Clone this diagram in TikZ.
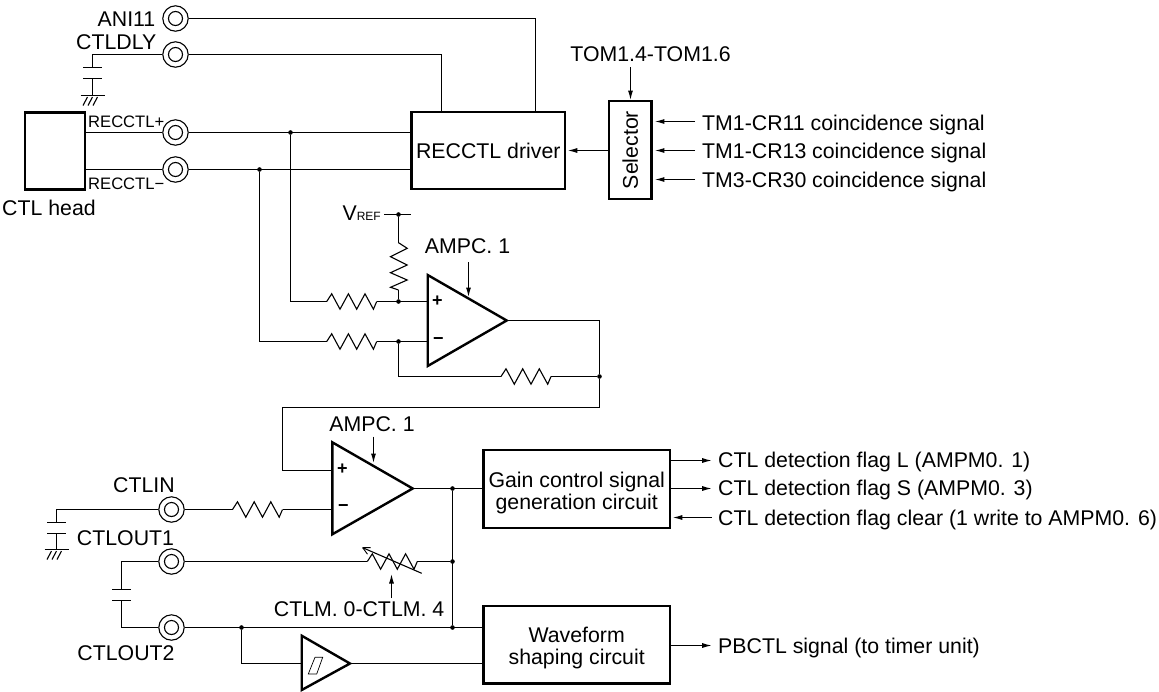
\documentclass[tikz,border=0pt]{standalone}
\usepackage{fontspec}
\setmainfont{Liberation Sans}
\usetikzlibrary{arrows.meta,calc}
\tikzset{
  wire/.style={line width=1.1pt,line join=miter},
  arr/.style={wire,-{Latex[length=9.5pt,width=5pt]}},
  thickbox/.style={draw,line width=2.4pt,inner sep=0pt,align=center,font=\mainfs},
  thickline/.style={line width=2.4pt,line join=miter},
  terminal/.style={draw,circle,line width=1.1pt,minimum size=25.4pt,inner sep=0pt,
    path picture={\draw[line width=1.1pt] (path picture bounding box.center) circle (7pt);}},
  jn/.style={circle,fill=black,inner sep=0pt,minimum size=4.6pt},
  lab/.style={inner sep=0pt,font=\mainfs,anchor=base},
  lableft/.style={lab,anchor=base west},
  labright/.style={lab,anchor=base east},
  smalllab/.style={inner sep=0pt,font=\recfs,anchor=base west},
  sign/.style={inner sep=0pt,font=\signfs},
  res/.pic={
    \coordinate (-a) at (-25,0);
    \coordinate (-b) at (25,0);
    \draw[wire] (-25,0) -- (-20,-7.7) -- (-11.7,7.7) -- (-3.3,-7.7) -- (5,7.7) -- (13.3,-7.7) -- (21.7,7.7) -- (25,0);
  },
  resv/.pic={
    \coordinate (-a) at (0,-23.6);
    \coordinate (-b) at (0,23.7);
    \draw[wire] (0,-23.6) -- (8.7,-18) -- (-8,-9.6) -- (8.7,-1.3) -- (-8,6.4) -- (8.7,13.7) -- (-8,21) -- (0,23.7);
  },
  capv/.pic={
    \coordinate (-a) at (0,-5.5);
    \coordinate (-b) at (0,5.5);
    \draw[wire] (-9.5,-5.5) -- (9.5,-5.5);
    \draw[wire] (-9.5,5.5) -- (9.5,5.5);
  },
  gnd/.pic={
    \coordinate (-a) at (0,0);
    \draw[wire] (-12,0) -- (12,0);
    \draw[wire] (-5,1.5) -- (-9.5,10);
    \draw[wire] (0,1.5) -- (-4.5,10);
    \draw[wire] (5,1.5) -- (0.5,10);
  }
}
\newcommand{\mainfs}{\fontsize{21.3}{22}\selectfont}
\newcommand{\recfs}{\fontsize{16.6}{18}\selectfont}
\newcommand{\signfs}{\fontsize{18}{18}\selectfont\bfseries}
\newcommand{\reffs}{\fontsize{12}{12}\selectfont}
\begin{document}
\begin{tikzpicture}[x=1pt,y=-1pt]
\useasboundingbox (0,0) rectangle (1159,691);

% terminals
\node[terminal] (ani) at (175.5,18.5) {};
\node[terminal] (dly) at (175.5,54.5) {};
\node[terminal] (rp) at (175.5,132.5) {};
\node[terminal] (rm) at (175.5,169.5) {};
\node[terminal] (ctlin) at (171.5,509.5) {};
\node[terminal] (out1) at (171.5,561.5) {};
\node[terminal] (out2) at (171.5,627.5) {};

% terminal labels
\node[labright] (lani) at (155.5,26) {ANI11};
\node[labright] (ldly) at (156.5,49.3) {CTLDLY};
\node[smalllab] (lrp) at (88,127.7) {RECCTL+};
\node[smalllab] (lrm) at (88,189) {RECCTL−};
\node[lab] (lhead) at (49,215) {CTL head};
\node[lab] (lin) at (144,492.7) {CTLIN};
\node[lab] (lo1) at (125.5,545) {CTLOUT1};
\node[lab] (lo2) at (126,660) {CTLOUT2};

% boxes
\node[thickbox,minimum width=60pt,minimum height=77pt] (head) at (55,150.8) {};
\node[thickbox,minimum width=153.5pt,minimum height=77.3pt,text height=15.8pt,text depth=0pt] (drv) at (488.3,150.4) {RECCTL driver};
\node[thickbox,minimum width=42.7pt,minimum height=98pt] (sel) at (630.3,150) {};
\node[inner sep=0pt,font=\mainfs,rotate=90] (seltxt) at (630.3,150) {Selector};
\node[thickbox,minimum width=186.7pt,minimum height=77.7pt,text height=40.2pt,text depth=0pt] (gain) at (576.7,488.9) {Gain control signal\\generation circuit};
\node[thickbox,minimum width=186.7pt,minimum height=77.6pt,text height=39.5pt,text depth=0pt] (wave) at (576.7,644.5) {Waveform\\shaping circuit};

% text
\node[lab] (ltom) at (650.5,61.7) {TOM1.4-TOM1.6};
\node[lableft] (s1) at (702,130) {TM1-CR11 coincidence signal};
\node[lableft] (s2) at (702,158) {TM1-CR13 coincidence signal};
\node[lableft] (s3) at (702,187) {TM3-CR30 coincidence signal};
\node[lableft] (f1) at (718,467.7) {CTL detection flag L (AMPM0. 1)};
\node[lableft] (f2) at (718,495.7) {CTL detection flag S (AMPM0. 3)};
\node[lableft] (f3) at (718,525) {CTL detection flag clear (1 write to AMPM0. 6)};
\node[lableft] (pb) at (718,653.3) {PBCTL signal (to timer unit)};
\node[lab] (la1) at (467.5,253.3) {AMPC. 1};
\node[lab] (la2) at (372,431) {AMPC. 1};
\node[labright] (lm) at (444.5,616.7) {CTLM. 0-CTLM. 4};
\node[labright] (lv) at (381,220) {V{\reffs REF}};

% junctions
\node[jn] (jrp) at (290.5,132.5) {};
\node[jn] (jrm) at (259.5,169.5) {};
\node[jn] (jv) at (398.5,214.5) {};
\node[jn] (ja1p) at (398.5,301.5) {};
\node[jn] (ja1m) at (398.5,341.5) {};
\node[jn] (jfb) at (599.5,376.5) {};
\node[jn] (ja2o) at (452.5,488.5) {};
\node[jn] (jvr) at (452.5,561.5) {};
\node[jn] (jo2r) at (452.5,627.5) {};
\node[jn] (jo2) at (241.5,627.5) {};

% amplifier 1
\coordinate (a1t) at (427.7,275);
\coordinate (a1b) at (427.7,366);
\coordinate (a1o) at (506.7,320.5);
\coordinate (a1p) at (427.7,301.5);
\coordinate (a1m) at (427.7,341.5);
\coordinate (a1c) at (468.5,296);
\draw[thickline] (a1t) -- (a1b) -- (a1o) -- cycle;
\node[sign] (a1ps) at (437.5,301) {+};
\node[sign] (a1ms) at (438.5,341) {−};

% amplifier 2
\coordinate (a2t) at (332.3,442.3);
\coordinate (a2b) at (332.3,534.3);
\coordinate (a2o) at (412.7,488.5);
\coordinate (a2p) at (332.3,470.5);
\coordinate (a2m) at (332.3,509.5);
\coordinate (a2c) at (373.5,462);
\draw[thickline] (a2t) -- (a2b) -- (a2o) -- cycle;
\node[sign] (a2ps) at (342.3,469) {+};
\node[sign] (a2ms) at (343.3,508.5) {−};

% schmitt
\coordinate (st) at (301.7,635.7);
\coordinate (sb) at (301.7,690);
\coordinate (so) at (350,663.5);
\coordinate (si) at (301.7,663.5);
\draw[thickline] (st) -- (sb) -- (so) -- cycle;
\draw[line width=.7pt] (315,657.3) -- (322.7,657.3) -- (316.7,674) -- (308.3,674) -- cycle;

% resistors
\pic (r1) at (351.7,301.5) {res};
\pic (r2) at (351.7,341.5) {res};
\pic (r3) at (526,376.5) {res};
\pic (r4) at (257.5,509.5) {res};
\pic (r5) at (398.5,266.3) {resv};
\pic (r6) at (392.3,561.5) {res};
\draw[wire] (421.7,573.3) -- (362.7,547.7);
\draw[line width=.9pt] (362.7,547.7) -- (370.5,547.6);
\draw[line width=.9pt] (362.7,547.7) -- (367.5,554.2);

% capacitors and grounds
\pic (c1) at (92.5,73) {capv};
\pic (g1) at (92.5,95.5) {gnd};
\pic (c2) at (56.5,528) {capv};
\pic (g2) at (56.5,549.5) {gnd};
\pic (c3) at (121.5,595) {capv};

% top wires
\draw[wire] (ani.east) -| (drv.north -| 535.5,0);
\draw[wire] (dly.east) -| (drv.north -| 441.5,0);
\draw[wire] (dly.west) -| (c1-a);
\draw[wire] (c1-b) -- (g1-a);
\draw[wire] (rp.west) -- (rp.west -| head.east);
\draw[wire] (rm.west) -- (rm.west -| head.east);
\draw[wire] (rp.east) -- (rp.east -| drv.west);
\draw[wire] (rm.east) -- (rm.east -| drv.west);
\coordinate (sg1) at (695,121.5);
\coordinate (sg2) at (695,150.5);
\coordinate (sg3) at (695,179.5);
\draw[arr,shorten >=1.5pt] (sg2 -| sel.west) -- (sg2 -| drv.east);
\draw[arr,shorten >=-1pt] (630.5,67) -- (630.5,99);
\draw[arr,shorten >=2pt] (sg1) -- (sg1 -| sel.east);
\draw[arr,shorten >=2pt] (sg2) -- (sg2 -| sel.east);
\draw[arr,shorten >=2pt] (sg3) -- (sg3 -| sel.east);

% amp 1 wires
\draw[wire] (jrp) |- (r1-a);
\draw[wire] (jrm) |- (r2-a);
\draw[wire] (r1-b) -- (a1p);
\draw[wire] (r2-b) -- (a1m);
\draw[wire] (384,214.5) -- (410.7,214.5);
\draw[wire] (jv) -- (r5-a);
\draw[wire] (r5-b) -- (ja1p);
\draw[wire] (ja1m) |- (r3-a);
\draw[wire] (r3-b) -- (jfb);
\coordinate (fb2) at (282.5,407.5);
\draw[wire] (a1o) -| (jfb);
\draw[wire] (jfb) -- (599.5,407.5) -- (fb2) |- (a2p);
\draw[arr,shorten >=-1pt] (468.5,262) -- (a1c);
\draw[arr,shorten >=-1pt] (373.5,436.7) -- (a2c);

% amp 2 wires
\draw[wire] (ctlin.east) -- (r4-a);
\draw[wire] (r4-b) -- (a2m);
\draw[wire] (a2o) -- (gain.west |- a2o);
\draw[wire] (ja2o) -- (jo2r);
\draw[wire] (ctlin.west) -| (c2-a);
\draw[wire] (c2-b) -- (g2-a);
\draw[wire] (out1.west) -| (c3-a);
\draw[wire] (c3-b) |- (out2.west);
\draw[wire] (out1.east) -- (r6-a);
\draw[wire] (r6-b) -- (jvr);
\draw[arr,shorten >=-1pt] (391.5,598) -- (391.5,575);
\draw[wire] (out2.east) -- (out2.east -| wave.west);
\draw[wire] (jo2) |- (si);
\draw[wire] (so) -- (so -| wave.west);

% outputs
\coordinate (o1) at (711.7,460.5);
\coordinate (o2) at (711.7,488.5);
\coordinate (o3) at (711.7,517.5);
\coordinate (o4) at (711.7,645.5);
\draw[arr] (o1 -| gain.east) -- (o1);
\draw[arr] (o2 -| gain.east) -- (o2);
\draw[arr,shorten >=1.5pt] (o3) -- (o3 -| gain.east);
\draw[arr] (o4 -| wave.east) -- (o4);
\end{tikzpicture}
\end{document}
